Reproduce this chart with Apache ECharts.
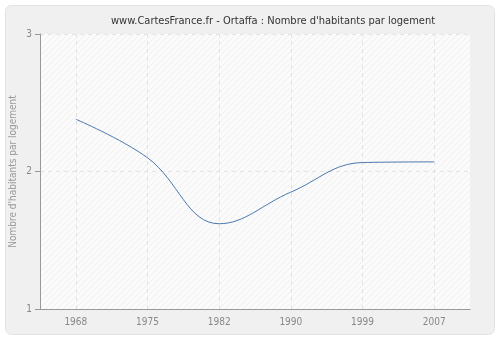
<!DOCTYPE html>
<html>
<head>
<meta charset="utf-8">
<script src="https://cdn.jsdelivr.net/npm/echarts@6/dist/echarts.min.js"></script>
<style>
  html, body { margin: 0; padding: 0; background: #ffffff; }
  #chart { width: 500px; height: 340px; }
</style>
</head>
<body>
<div id="chart"></div>
<script>
// Census years and average number of inhabitants per dwelling
const years = ['1968', '1975', '1982', '1990', '1999', '2007'];
const habitantsParLogement = [2.38, 2.10, 1.62, 1.85, 2.065, 2.07];
const yTicks = [1, 2, 3];

const FONT = "'DejaVu Sans Condensed', 'DejaVu Sans', sans-serif";

// Light diagonal hatching for the plot background
function hatchPattern() {
  const c = document.createElement('canvas');
  c.width = 6; c.height = 6;
  const g = c.getContext('2d');
  g.fillStyle = '#fbfbfb';
  g.fillRect(0, 0, 6, 6);
  g.strokeStyle = '#efefef';
  g.lineWidth = 1;
  g.beginPath();
  g.moveTo(0, 6); g.lineTo(6, 0);
  g.moveTo(-1, 1); g.lineTo(1, -1);
  g.moveTo(5, 7); g.lineTo(7, 5);
  g.stroke();
  return c;
}

const chart = echarts.init(document.getElementById('chart'), null, { renderer: 'canvas' });

chart.setOption({
  backgroundColor: '#ffffff',
  animation: false,
  graphic: [{
    type: 'rect',
    shape: { x: 5.5, y: 5.5, width: 489, height: 329, r: 6 },
    style: { fill: '#f0f0f0', stroke: '#e2e2e2', lineWidth: 1 },
    z: -10, silent: true
  }],
  title: {
    text: "www.CartesFrance.fr - Ortaffa : Nombre d'habitants par logement",
    left: 106, top: 11,
    textStyle: { fontFamily: FONT, fontSize: 11, fontWeight: 'normal', color: '#333333' }
  },
  grid: {
    left: 40, right: 30, top: 34, bottom: 31,
    containLabel: false,
    outerBoundsMode: 'none',
    show: true,
    backgroundColor: { image: hatchPattern(), repeat: 'repeat' },
    borderWidth: 0
  },
  xAxis: {
    type: 'category',
    data: years,
    boundaryGap: true,
    axisLine: { lineStyle: { color: '#999999', width: 1 } },
    axisTick: { alignWithLabel: true, length: 5, lineStyle: { color: '#999999' } },
    axisLabel: { color: '#888888', fontFamily: FONT, fontSize: 10, margin: 8 },
    splitLine: { show: false }
  },
  yAxis: {
    type: 'value',
    min: yTicks[0], max: yTicks[yTicks.length - 1], interval: 1,
    name: "Nombre d'habitants par logement",
    nameLocation: 'middle', nameGap: 22,
    nameMoveOverlap: false,
    nameTextStyle: { color: '#999999', fontFamily: FONT, fontSize: 10 },
    axisLine: { show: true, lineStyle: { color: '#999999', width: 1 } },
    axisTick: { show: true, length: 5, lineStyle: { color: '#999999' } },
    axisLabel: { color: '#888888', fontFamily: FONT, fontSize: 10, margin: 8 },
    splitLine: { show: true, lineStyle: { color: '#e4e4e4', type: [4, 4], width: 1 } }
  },
  series: [{
    type: 'line',
    data: habitantsParLogement,
    smooth: 0.4,
    symbol: 'none',
    lineStyle: { color: '#4a79ad', width: 1 },
    markLine: {
      silent: true,
      symbol: 'none',
      label: { show: false },
      lineStyle: { color: '#e2e2e2', type: [4, 4], width: 1 },
      data: years.map(y => ({ xAxis: y }))
    },
    z: 5
  }]
});
</script>
</body>
</html>
